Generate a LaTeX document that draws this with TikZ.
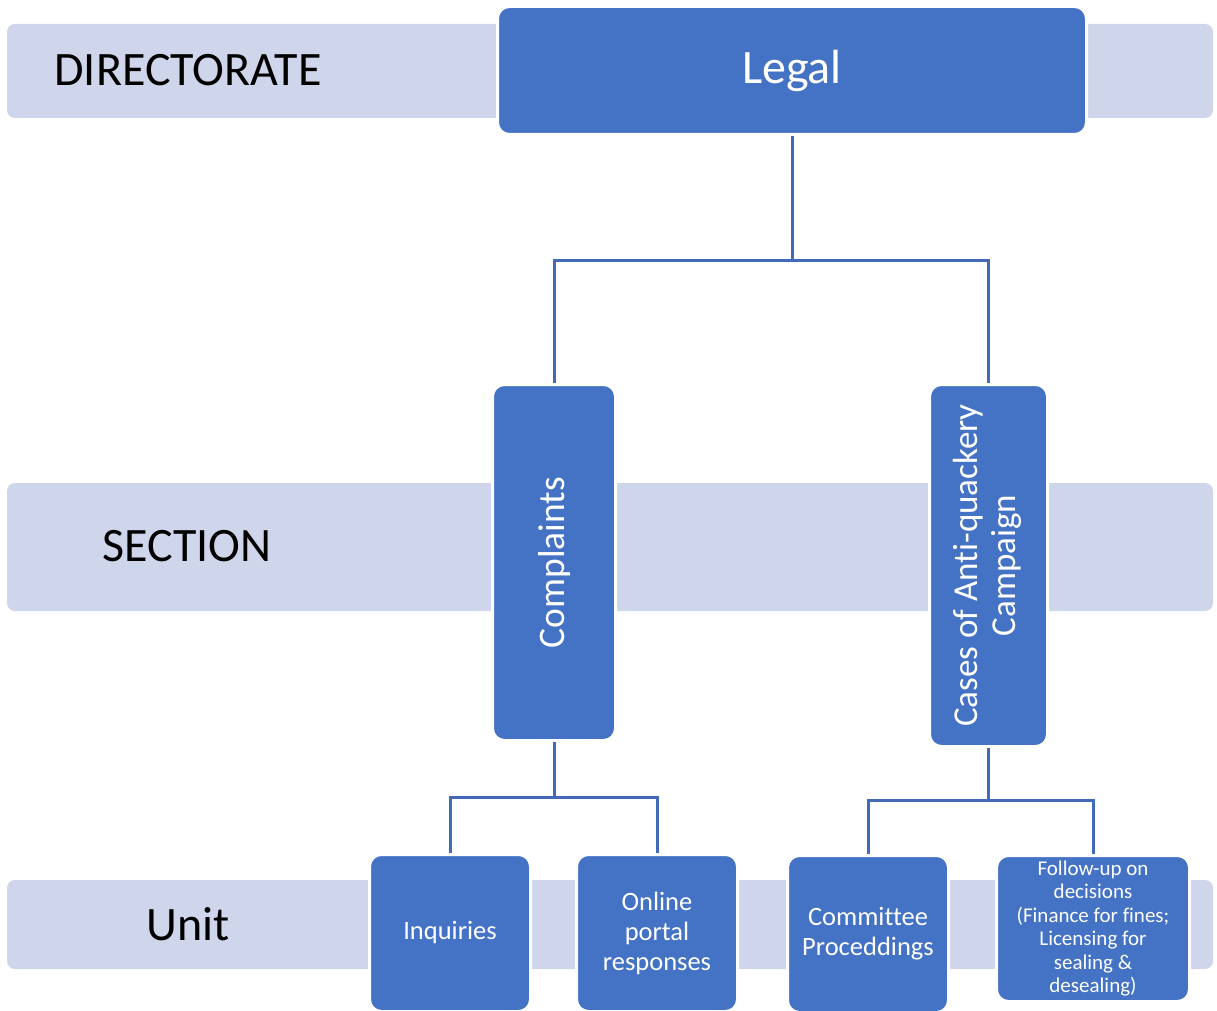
\documentclass[tikz,border=0pt]{standalone}
\usepackage{fontspec}
\setmainfont{Carlito}[Ligatures=CommonOff]
\usepackage{tikz}
\usetikzlibrary{positioning, calc}
\definecolor{orgblue}{RGB}{68, 114, 196}
\definecolor{bandblue}{RGB}{207, 213, 234}
\definecolor{linkblue}{RGB}{66, 106, 184}

\tikzset{
  band/.style={fill=bandblue, rounded corners=8pt, minimum width=1206pt, inner sep=0pt},
  bandlabel/.style={font=\fontsize{48}{56}\selectfont, text=black, inner sep=0pt},
  orgbox/.style={fill=orgblue, draw=white, line width=3pt, rounded corners=12pt, text=white, align=center, inner sep=0pt},
  unitbox/.style={orgbox, minimum width=161pt, minimum height=157pt, font=\fontsize{26.5}{30}\selectfont},
  link/.style={draw=linkblue, line width=3pt},
}

\begin{document}
\begin{tikzpicture}[x=1pt, y=-1pt]
  \useasboundingbox (0,0) rectangle (1217,1011);

  % level bands
  \node[band, minimum height=94pt] (dirband) at (610,71) {};
  \node[band, minimum height=128pt] (secband) at (610,547) {};
  \node[band, minimum height=89pt] (unitband) at (610,924.5) {};
  \node[bandlabel] (dirlabel) at (188,70) {DIRECTORATE};
  \node[bandlabel] (seclabel) at (187,546) {SECTION};
  \node[bandlabel] (unitlabel) at (188,924) {Unit};

  % directorate and sections
  \node[orgbox, minimum width=589pt, minimum height=128pt, font=\fontsize{48}{56}\selectfont] (legal) at (792,70.5) {Legal};
  \node[orgbox, minimum width=123pt, minimum height=356pt, font=\fontsize{37.5}{44}\selectfont] (complaints) at (554,562.5) {\rotatebox{90}{Complaints}};
  \node[orgbox, minimum width=118pt, minimum height=362pt, font=\fontsize{35}{38}\selectfont] (cases) at (988.5,565.5) {\rotatebox{90}{\begin{tabular}{@{}c@{}}Cases of Anti-quackery\\Campaign\end{tabular}}};

  % units
  \node[unitbox] (inquiries) at (450,933) {Inquiries};
  \node[unitbox] (portal) at (657,933) {Online\\portal\\responses};
  \node[unitbox] (committee) at (868,934) {Committee\\Proceddings};
  \node[unitbox, minimum width=193pt, minimum height=146pt, font=\fontsize{21}{23.5}\selectfont] (followup) at (1093,928.5) {Follow-up on\\decisions\\(Finance for fines;\\Licensing for\\sealing \&\\desealing)};

  % connectors
  \coordinate (secbus) at (0,260);
  \coordinate (compbus) at (0,797);
  \coordinate (casebus) at (0,800);
  \draw[link] (legal.south) -- (legal.south |- secbus) -| (complaints.north);
  \draw[link] (legal.south) -- (legal.south |- secbus) -| (cases.north);
  \draw[link] (complaints.south) -- (complaints.south |- compbus) -| (inquiries.north);
  \draw[link] (complaints.south) -- (complaints.south |- compbus) -| (portal.north);
  \draw[link] (cases.south) -- (cases.south |- casebus) -| (committee.north);
  \draw[link] (cases.south) -- (cases.south |- casebus) -| (followup.north);
\end{tikzpicture}
\end{document}
